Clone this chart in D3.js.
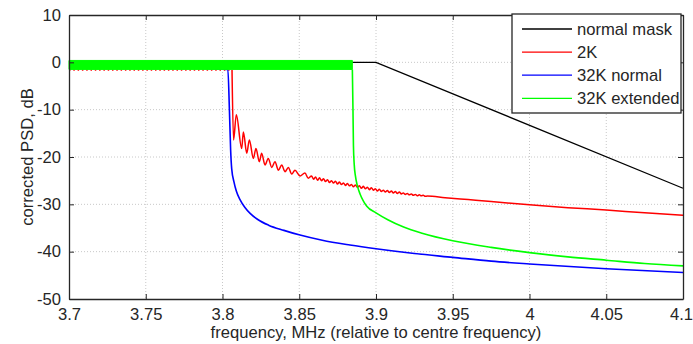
<!DOCTYPE html>
<html>
<head>
<meta charset="utf-8">
<script src="https://cdn.jsdelivr.net/npm/d3@7"></script>
<style>
  body { margin: 0; background: #fff; }
  text { font-family: "Liberation Sans", Arial, sans-serif; fill: #262626; }
</style>
</head>
<body>
<div id="chart"></div>
<script>
// tick labels
var xTicks = [3.7, 3.75, 3.8, 3.85, 3.9, 3.95, 4, 4.05, 4.1];
var yTicks = [10, 0, -10, -20, -30, -40, -50];

// normal mask
var maskF = [3.7, 3.9, 4.1];
var maskDb = [0, 0, -26.6];

// 2K: passband ripple floor, then the roll-off with its ripple
var redPassF = [3.7, 3.8062];
var redPassDb = [-1.6, -1.6];
var redF = [3.8062, 3.8072, 3.8090, 3.8125, 3.8136, 3.8158, 3.8175, 3.8201, 3.8218, 3.8240, 3.8255,
  3.8277, 3.8298, 3.8321, 3.8342, 3.8364, 3.8386, 3.8407, 3.8429, 3.8451, 3.8472, 3.8505, 3.8537,
  3.8559, 3.8580, 3.8593, 3.8606, 3.8619, 3.8632, 3.8645, 3.8658, 3.8671, 3.8684, 3.8697, 3.8710,
  3.8723, 3.8736, 3.8749, 3.8762, 3.8775, 3.8788, 3.8801, 3.8814, 3.8827, 3.8840, 3.8853, 3.8866,
  3.8879, 3.8892, 3.8905, 3.8918, 3.8931, 3.8944, 3.8957, 3.8970, 3.8983, 3.8996, 3.9009, 3.9022,
  3.9035, 3.9048, 3.9061, 3.9074, 3.9087, 3.9100, 3.9113, 3.9126, 3.9139, 3.9152, 3.9165, 3.9178,
  3.9191, 3.9204, 3.9217, 3.9230, 3.9243, 3.9256, 3.9269, 3.9282, 3.9295, 3.9308, 3.9321, 3.9334,
  3.945, 3.96, 3.975, 4.0, 4.025, 4.05, 4.075, 4.1];
var redDb = [-1.6, -16.4, -11.1, -18.2, -14.7, -19.2, -16.4, -20.3, -18.2, -21.0, -19.2,
  -21.7, -20.3, -22.2, -21.0, -22.8, -21.7, -23.1, -22.2, -23.6, -22.8, -24.0, -23.4,
  -24.5, -24.0, -24.7, -24.2, -24.9, -24.4, -25.0, -24.6, -25.2, -24.8, -25.4, -25.0,
  -25.5, -25.1, -25.7, -25.3, -25.8, -25.5, -26.0, -25.6, -26.1, -25.8, -26.3, -25.9,
  -26.4, -26.1, -26.6, -26.2, -26.7, -26.4, -26.9, -26.5, -27.0, -26.7, -27.2, -26.8,
  -27.3, -27.0, -27.4, -27.1, -27.5, -27.2, -27.6, -27.3, -27.7, -27.4, -27.8, -27.6,
  -27.9, -27.7, -28.0, -27.8, -28.1, -27.9, -28.2, -28.0, -28.2, -28.1, -28.3, -28.25,
  -28.6, -29.0, -29.4, -30.1, -30.7, -31.2, -31.8, -32.3];

// 32K normal
var blueF = [3.7, 3.8035, 3.8045, 3.8053, 3.806, 3.8075, 3.809, 3.8114, 3.8145, 3.818, 3.823, 3.83,
  3.84, 3.8505, 3.865, 3.883, 3.9, 3.925, 3.95, 3.975, 4.0, 4.05, 4.1];
var blueDb = [-0.6, -1.5, -10, -18.5, -22.5, -25.3, -27.2, -29, -30.6, -31.9, -33.2, -34.4,
  -35.5, -36.5, -37.6, -38.6, -39.4, -40.4, -41.2, -42.0, -42.6, -43.6, -44.4];

// 32K extended: dense passband ripple (upper / lower envelope), then roll-off
var greenPassF = [3.7, 3.8846];
var greenPassHi = [0.4, 0.4];
var greenPassLo = [-1.5, -1.5];
var greenF = [3.8846, 3.8850, 3.8853, 3.8858, 3.8866, 3.8878, 3.8896, 3.8918, 3.894, 3.9, 3.908, 3.918,
  3.93, 3.95, 3.975, 4.0, 4.025, 4.05, 4.075, 4.1];
var greenDb = [-1.5, -10, -17.5, -21.5, -24.0, -26.0, -27.8, -29.3, -30.4, -31.8, -33.3, -34.8,
  -36.1, -37.7, -39.1, -40.2, -41.1, -41.8, -42.5, -43.0];

var legendNames = ["normal mask", "2K", "32K normal", "32K extended"];
var legendColors = ["#000000", "#ff0000", "#0000ff", "#00ff00"];

var margin = { top: 15, right: 10, bottom: 45, left: 69 },
  width = 693 - margin.left - margin.right,
  height = 344 - margin.top - margin.bottom;

var svg = d3.select("#chart").append("svg")
  .attr("width", 693)
  .attr("height", 344)
  .append("g")
  .attr("transform", "translate(" + margin.left + "," + margin.top + ")");

var x = d3.scaleLinear().domain([3.7, 4.1]).range([0, width]);
var y = d3.scaleLinear().domain([-50, 10]).range([height, 0]);

// grid
svg.append("g").selectAll("line")
  .data(xTicks.slice(1, -1))
  .enter().append("line")
  .attr("x1", d => x(d)).attr("x2", d => x(d))
  .attr("y1", 0).attr("y2", height)
  .attr("stroke", "#c8c8c8").attr("stroke-dasharray", "1,2");
svg.append("g").selectAll("line")
  .data(yTicks.slice(1, -1))
  .enter().append("line")
  .attr("y1", d => y(d)).attr("y2", d => y(d))
  .attr("x1", 0).attr("x2", width)
  .attr("stroke", "#c8c8c8").attr("stroke-dasharray", "1,2");

var plot = svg.append("g");
var zip = (fs, vs) => fs.map((f, i) => [f, vs[i]]);
var line = d3.line().x(d => x(d[0])).y(d => y(d[1]));
var smooth = d3.line().x(d => x(d[0])).y(d => y(d[1])).curve(d3.curveMonotoneX);

plot.append("path")
  .attr("d", line(zip(maskF, maskDb)))
  .attr("fill", "none").attr("stroke", "#000").attr("stroke-width", 1.3);

plot.append("path")
  .attr("d", line(zip(redPassF, redPassDb)))
  .attr("fill", "none").attr("stroke", "#ff0000").attr("stroke-width", 1.5)
  .attr("stroke-dasharray", "1.5,2.8");
plot.append("path")
  .attr("d", smooth(zip(redF, redDb)))
  .attr("fill", "none").attr("stroke", "#ff0000").attr("stroke-width", 1.5)
  .attr("stroke-linejoin", "round");

plot.append("path")
  .attr("d", smooth(zip(blueF, blueDb)))
  .attr("fill", "none").attr("stroke", "#0000ff").attr("stroke-width", 1.6);

var band = d3.area()
  .x((d, i) => x(greenPassF[i]))
  .y0((d, i) => y(greenPassLo[i]))
  .y1((d, i) => y(greenPassHi[i]));
plot.append("path")
  .attr("d", band(greenPassF))
  .attr("fill", "#00ff00").attr("stroke", "#00ff00").attr("stroke-width", 1);
plot.append("path")
  .attr("d", smooth(zip(greenF, greenDb)))
  .attr("fill", "none").attr("stroke", "#00ff00").attr("stroke-width", 1.6);

// axes box with inward ticks
var fmt = d => String(d);
svg.append("g")
  .attr("transform", "translate(0," + height + ")")
  .call(d3.axisBottom(x).tickValues(xTicks).tickFormat(fmt).tickSizeInner(-5).tickSizeOuter(0).tickPadding(9))
  .selectAll(".tick text")
  .attr("dx", d => d === 4.1 ? -2 : 0);
svg.append("g")
  .call(d3.axisTop(x).tickValues(xTicks).tickFormat("").tickSizeInner(-5).tickSizeOuter(0));
svg.append("g")
  .call(d3.axisLeft(y).tickValues(yTicks).tickFormat(fmt).tickSizeInner(-5).tickSizeOuter(0).tickPadding(8));
svg.append("g")
  .attr("transform", "translate(" + width + ",0)")
  .call(d3.axisRight(y).tickValues(yTicks).tickFormat("").tickSizeInner(-5).tickSizeOuter(0));
svg.selectAll(".domain").attr("stroke", "#262626").attr("stroke-width", 1.3);
svg.selectAll(".tick line").attr("stroke", "#262626");
svg.selectAll(".tick text")
  .attr("font-family", "Liberation Sans, Arial, sans-serif")
  .attr("font-size", "16.6px")
  .attr("fill", "#262626");

// axis titles
svg.append("text")
  .attr("x", width / 2)
  .attr("y", height + 39)
  .attr("text-anchor", "middle")
  .attr("font-size", "16.6px")
  .text("frequency, MHz (relative to centre frequency)");
svg.append("text")
  .attr("transform", "rotate(-90)")
  .attr("x", -height / 2)
  .attr("y", -36)
  .attr("text-anchor", "middle")
  .attr("font-size", "16.6px")
  .text("corrected PSD, dB");

// legend
var lg = svg.append("g").attr("transform", "translate(" + (512 - margin.left) + "," + (14 - margin.top) + ")");
lg.append("rect")
  .attr("width", 169).attr("height", 99)
  .attr("fill", "#fff").attr("stroke", "#262626").attr("stroke-width", 1.3);
var rows = lg.selectAll("g.row")
  .data(legendNames)
  .enter().append("g")
  .attr("transform", (d, i) => "translate(0," + (15 + i * 23.1) + ")");
rows.append("line")
  .attr("x1", 10).attr("x2", 60)
  .attr("stroke", (d, i) => legendColors[i]).attr("stroke-width", 1.3);
rows.append("text")
  .attr("x", 65).attr("dy", "0.35em")
  .attr("font-size", "16.6px")
  .text(d => d);
</script>
</body>
</html>
